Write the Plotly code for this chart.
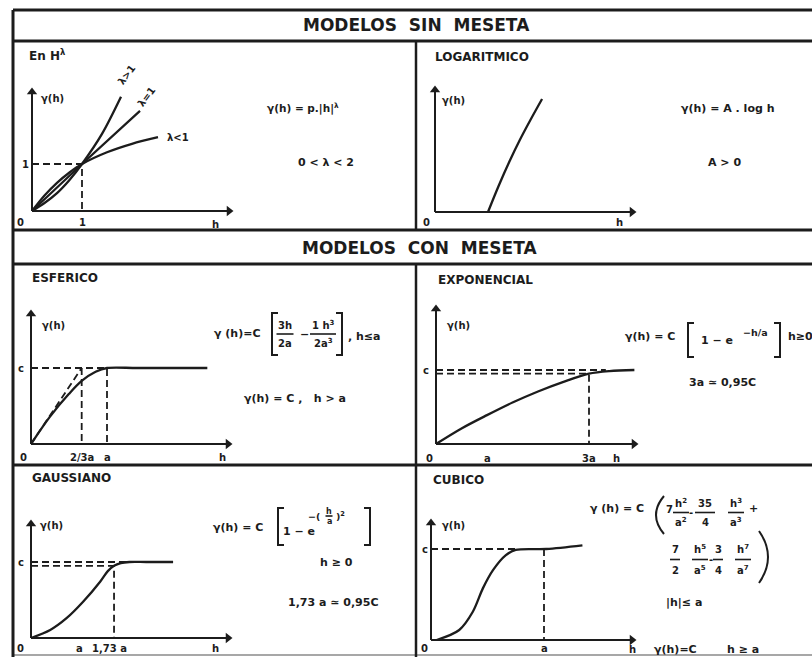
import plotly.graph_objects as go

W, H = 812, 657
INK = "#1c1c1c"
FONT = "DejaVu Sans"

# ---------------- model curves (units: a = 1, C = 1) ----------------
# En H^lambda
pot_h_may = [0, 0.25, 0.5, 0.75, 1, 1.4, 1.78]
pot_g_may = [0, 0.17, 0.38, 0.66, 1, 1.64, 2.43]
pot_h_igual = [0, 1, 2.16]
pot_g_igual = [0, 1, 2.13]
pot_h_men = [0, 0.25, 0.5, 0.75, 1, 1.5, 2.0, 2.52]
pot_g_men = [0, 0.33, 0.6, 0.82, 1, 1.25, 1.43, 1.57]
pot_guia_h = [0, 1, 1]
pot_guia_g = [1, 1, 0]

# Logaritmico
log_h = [1.0, 1.2, 1.4, 1.6, 1.8, 2.02]
log_g = [0, 0.52, 1.0, 1.44, 1.84, 2.26]

# Esferico
esf_h = [0, 0.25, 0.5, 0.667, 0.85, 1.0, 1.4, 2.32]
esf_g = [0, 0.36, 0.66, 0.83, 0.95, 1.0, 1.0, 1.0]
esf_guia_h = [0, 1, 1]
esf_guia_g = [1, 1, 0]
esf_23a_h = [0.667, 0.667]
esf_23a_g = [1, 0]
esf_tang_h = [0, 0.667]
esf_tang_g = [0, 1]

# Exponencial
exp_h = [0, 0.5, 1, 1.5, 2, 2.5, 3, 3.4, 3.89]
exp_g = [0, 0.21, 0.39, 0.56, 0.71, 0.84, 0.95, 0.985, 1.0]
exp_c_h = [0, 3.33]
exp_c_g = [1, 1]
exp_95_h = [0, 3, 3]
exp_95_g = [0.95, 0.95, 0]

# Gaussiano
gau_h = [0, 0.40, 0.74, 1.09, 1.44, 1.6, 1.73, 1.87, 2.05, 2.4, 2.96]
gau_g = [0, 0.105, 0.26, 0.48, 0.74, 0.88, 0.95, 0.985, 1.0, 1.0, 1.0]
gau_c_h = [0, 2.0]
gau_c_g = [1, 1]
gau_95_h = [0, 1.73, 1.73]
gau_95_g = [0.95, 0.95, 0]

# Cubico
cub_h = [0.05, 0.25, 0.37, 0.46, 0.55, 0.66, 0.75, 1.02, 1.34]
cub_g = [0, 0.11, 0.31, 0.57, 0.77, 0.93, 0.99, 1.0, 1.04]
cub_c_h = [0, 0.75]
cub_c_g = [1, 1]
cub_a_h = [1, 1]
cub_a_g = [1, 0]

# ---------------- panel geometry (pixels) ----------------
# box = cell (left, top, right, bottom); org = axes origin; ux/uy = px per unit;
# xl/yl = length of the drawn axes
PANELS = {
    1: dict(box=(14, 41, 416, 230), org=(32, 211), ux=50, uy=47, xl=201, yl=123),
    2: dict(box=(416, 41, 812, 230), org=(435, 212), ux=53, uy=50, xl=201, yl=126),
    3: dict(box=(14, 264, 416, 465), org=(31, 444), ux=76, uy=76, xl=201, yl=134),
    4: dict(box=(416, 264, 812, 465), org=(436, 444), ux=51, uy=74, xl=202, yl=139),
    5: dict(box=(14, 465, 416, 655), org=(31, 638), ux=48, uy=76, xl=201, yl=118),
    6: dict(box=(416, 465, 812, 655), org=(431, 640), ux=113, uy=91, xl=205, yl=121),
}

fig = go.Figure()


def xid(k):
    return "x" if k == 1 else f"x{k}"


def yid(k):
    return "y" if k == 1 else f"y{k}"


layout_axes = {}
for k, p in PANELS.items():
    L, T, R, B = p["box"]
    ox, oy = p["org"]
    xa = dict(domain=[L / W, R / W], range=[(L - ox) / p["ux"], (R - ox) / p["ux"]],
              visible=False, fixedrange=True, anchor=yid(k))
    ya = dict(domain=[1 - B / H, 1 - T / H], range=[(oy - B) / p["uy"], (oy - T) / p["uy"]],
              visible=False, fixedrange=True, anchor=xid(k))
    layout_axes["xaxis" if k == 1 else f"xaxis{k}"] = xa
    layout_axes["yaxis" if k == 1 else f"yaxis{k}"] = ya


def curve(k, xs, ys, dash=None, width=2.3, shape="spline"):
    fig.add_trace(go.Scatter(
        x=xs, y=ys, mode="lines", xaxis=xid(k), yaxis=yid(k),
        line=dict(color=INK, width=width, dash=dash, shape=shape, smoothing=0.9),
        hoverinfo="skip", showlegend=False))


DASH = "7px,4px"


def guide(k, xs, ys):
    curve(k, xs, ys, dash=DASH, width=1.8, shape="linear")


def axes_arrows(k):
    """Both axes of a panel: a line from the origin and a filled triangle tip."""
    p = PANELS[k]
    xend = p["xl"] / p["ux"]
    yend = p["yl"] / p["uy"]
    tip_x = 4 / p["ux"]
    tip_y = 4 / p["uy"]
    fig.add_trace(go.Scatter(
        x=[0, xend - tip_x, None, 0, 0], y=[0, 0, None, 0, yend - tip_y],
        mode="lines", xaxis=xid(k), yaxis=yid(k),
        line=dict(color=INK, width=2), hoverinfo="skip", showlegend=False))
    fig.add_trace(go.Scatter(
        x=[xend - tip_x, 0], y=[0, yend - tip_y], mode="markers",
        xaxis=xid(k), yaxis=yid(k),
        marker=dict(symbol=["triangle-right", "triangle-up"], size=9, color=INK,
                    line=dict(width=0)),
        hoverinfo="skip", showlegend=False, cliponaxis=False))
    return xend, yend


def lab(k, x, y, text, dx=0, dy=0, size=10, anchor="center", angle=0):
    fig.add_annotation(x=x, y=y, xref=xid(k), yref=yid(k), text=f"<b>{text}</b>",
                       showarrow=False, xshift=dx, yshift=-dy, xanchor=anchor,
                       yanchor="middle", textangle=angle,
                       font=dict(family=FONT, size=size, color=INK))


def txt(x, y, text, size=11, anchor="center"):
    fig.add_annotation(x=x / W, y=1 - y / H, xref="paper", yref="paper",
                       text=f"<b>{text}</b>", showarrow=False, xanchor=anchor,
                       yanchor="middle", font=dict(family=FONT, size=size, color=INK))


def pline(x0, y0, x1, y1, w=2.0, color=INK):
    fig.add_shape(type="line", xref="paper", yref="paper",
                  x0=x0 / W, y0=1 - y0 / H, x1=x1 / W, y1=1 - y1 / H,
                  line=dict(color=color, width=w))


def ppath(points, w=2.0, curved=False):
    pts = [(x / W, 1 - y / H) for x, y in points]
    if curved:
        (a, b), (c, d), (e, f) = pts
        path = f"M {a},{b} Q {c},{d} {e},{f}"
    else:
        path = "M " + " L ".join(f"{x},{y}" for x, y in pts)
    fig.add_shape(type="path", xref="paper", yref="paper", path=path,
                  line=dict(color=INK, width=w))


def frac(xc, y_num, y_den, num, den, bar_w, size=10):
    txt(xc, y_num, num, size)
    txt(xc, y_den, den, size)
    y_bar = (y_num + y_den) / 2
    pline(xc - bar_w / 2, y_bar, xc + bar_w / 2, y_bar, 1.6)


def bracket(x, y0, y1, side, w=2.0):
    d = 6 if side == "l" else -6
    ppath([(x + d, y0), (x, y0), (x, y1), (x + d, y1)], w)


# ---------------- frame ----------------
for yy in (10, 41, 230, 264, 465):
    pline(13, yy, 812, yy, 3)
pline(13, 655, 812, 655, 1.5, "#8a8a8a")
pline(13, 10, 13, 657, 3)
pline(416, 41, 416, 230, 2.5)
pline(416, 264, 416, 657, 2.5)

NB = "\u00a0\u00a0"
txt(417, 25, f"MODELOS{NB}SIN{NB}MESETA", 17)
txt(420, 248, f"MODELOS{NB}CON{NB}MESETA", 17)

TS = 12  # panel title size

# ---------------- 1: En H^lambda ----------------
xe, ye = axes_arrows(1)
curve(1, pot_h_may, pot_g_may)
curve(1, pot_h_igual, pot_g_igual, shape="linear")
curve(1, pot_h_men, pot_g_men)
guide(1, pot_guia_h, pot_guia_g)
lab(1, 0, 0, "0", dx=-12, dy=11)
lab(1, 1, 0, "1", dy=11)
lab(1, 0, 1, "1", dx=-7)
lab(1, xe, 0, "h", dx=-18, dy=13)
lab(1, 0, ye, "γ(h)", dx=20, dy=10)
lab(1, pot_h_may[-1], pot_g_may[-1], "λ>1", dx=6, dy=-22, angle=-53)
lab(1, pot_h_igual[-1], pot_g_igual[-1], "λ=1", dx=7, dy=-14, angle=-53)
lab(1, pot_h_men[-1], pot_g_men[-1], "λ<1", dx=7, anchor="left")
txt(27, 55, "En H<sup>λ</sup>", TS, "left")
txt(303, 108, "γ(h) = p.|h|<sup>λ</sup>", 10.5)
txt(326, 163, "0 < λ < 2", 11)

# ---------------- 2: Logaritmico ----------------
xe, ye = axes_arrows(2)
curve(2, log_h, log_g)
lab(2, 0, 0, "0", dx=-9, dy=10)
lab(2, xe, 0, "h", dx=-17, dy=10)
lab(2, 0, ye, "γ(h)", dx=18, dy=14)
txt(433, 57, "LOGARITMICO", TS, "left")
txt(727, 108, "γ(h) = A . log h", 11)
txt(724, 163, "A > 0", 11)

# ---------------- 3: Esferico ----------------
xe, ye = axes_arrows(3)
curve(3, esf_h, esf_g)
guide(3, esf_guia_h, esf_guia_g)
guide(3, esf_23a_h, esf_23a_g)
guide(3, esf_tang_h, esf_tang_g)
lab(3, 0, 0, "0", dx=-8, dy=13)
lab(3, esf_23a_h[0], 0, "2/3a", dy=13)
lab(3, 1, 0, "a", dy=13)
lab(3, xe, 0, "h", dx=-10, dy=13)
lab(3, 0, 1, "c", dx=-10)
lab(3, 0, ye, "γ(h)", dx=22, dy=15)
txt(30, 278, "ESFERICO", TS, "left")
txt(237, 333, "γ (h)=C", 11)
bracket(272, 313, 355, "l")
frac(285, 325, 343, "3h", "2a", 17)
txt(304, 334, "−", 11)
frac(323, 325, 343, "1 h<sup>3</sup>", "2a<sup>3</sup>", 26)
bracket(342, 313, 355, "r")
txt(346, 336, ", h≤a", 11, "left")
txt(295, 398, "γ(h) = C ,   h > a", 11)

# ---------------- 4: Exponencial ----------------
xe, ye = axes_arrows(4)
curve(4, exp_h, exp_g)
guide(4, exp_c_h, exp_c_g)
guide(4, exp_95_h, exp_95_g)
lab(4, 0, 0, "0", dx=-7, dy=14)
lab(4, 1, 0, "a", dy=14)
lab(4, 3, 0, "3a", dy=14)
lab(4, xe, 0, "h", dx=-22, dy=14)
lab(4, 0, 1, "c", dx=-10)
lab(4, 0, ye, "γ(h)", dx=22, dy=20)
txt(436, 280, "EXPONENCIAL", TS, "left")
txt(650, 336, "γ(h) = C", 11)
bracket(688, 323, 357, "l")
txt(717, 340, "1 − e", 11)
txt(755, 332, "−h/a", 9.5)
bracket(780, 323, 357, "r")
txt(786, 336, "h≥0", 11, "left")
txt(722, 382, "3a ≃ 0,95C", 11)

# ---------------- 5: Gaussiano ----------------
xe, ye = axes_arrows(5)
curve(5, gau_h, gau_g)
guide(5, gau_c_h, gau_c_g)
guide(5, gau_95_h, gau_95_g)
lab(5, 0, 0, "0", dx=-11, dy=10)
lab(5, 1, 0, "a", dy=10)
lab(5, 1.73, 0, "1,73 a", dx=-5, dy=10)
lab(5, xe, 0, "h", dx=-17, dy=10)
lab(5, 0, 1, "c", dx=-10)
lab(5, 0, ye, "γ(h)", dx=20, dy=5)
txt(30, 478, "GAUSSIANO", TS, "left")
txt(238, 527, "γ(h) = C", 11)
bracket(278, 508, 545, "l")
txt(299, 531, "1 − e", 11)
txt(322, 516, "−(", 9.5, "right")
frac(329, 511, 521, "h", "a", 7, 8)
txt(334, 516, ")<sup>2</sup>", 9.5, "left")
bracket(370, 508, 545, "r")
txt(336, 562, "h ≥ 0", 11)
txt(333, 602, "1,73 a ≃ 0,95C", 11)

# ---------------- 6: Cubico ----------------
xe, ye = axes_arrows(6)
curve(6, cub_h, cub_g)
guide(6, cub_c_h, cub_c_g)
guide(6, cub_a_h, cub_a_g)
lab(6, 0, 0, "0", dx=-7, dy=8)
lab(6, 1, 0, "a", dy=8)
lab(6, xe, 0, "h", dx=-4, dy=9)
lab(6, 0, 1, "c", dx=-6)
lab(6, 0, ye, "γ(h)", dx=22, dy=6)
txt(431, 480, "CUBICO", TS, "left")
txt(617, 508, "γ (h) = C", 11)
ppath([(664, 496), (648, 515), (664, 534)], 2.0, curved=True)
txt(669, 509, "7", 10)
frac(681, 503, 522, "h<sup>2</sup>", "a<sup>2</sup>", 16)
txt(691, 512, "-", 10)
frac(705, 503, 522, "35", "4", 20)
frac(736, 503, 522, "h<sup>3</sup>", "a<sup>3</sup>", 16)
txt(753, 508, "+", 11)
frac(675, 549, 570, "7", "2", 10)
frac(700, 549, 570, "h<sup>5</sup>", "a<sup>5</sup>", 16)
txt(711, 559, "-", 10)
frac(718, 549, 570, "3", "4", 10)
frac(743, 549, 570, "h<sup>7</sup>", "a<sup>7</sup>", 16)
ppath([(759, 531), (777, 557), (759, 583)], 2.0, curved=True)
txt(684, 602, "|h|≤ a", 11)
txt(675, 649, "γ(h)=C", 11)
txt(743, 649, "h ≥ a", 11)

fig.update_layout(
    width=W, height=H, margin=dict(l=0, r=0, t=0, b=0),
    paper_bgcolor="white", plot_bgcolor="rgba(0,0,0,0)",
    showlegend=False, **layout_axes)

fig.write_html("out.html")
